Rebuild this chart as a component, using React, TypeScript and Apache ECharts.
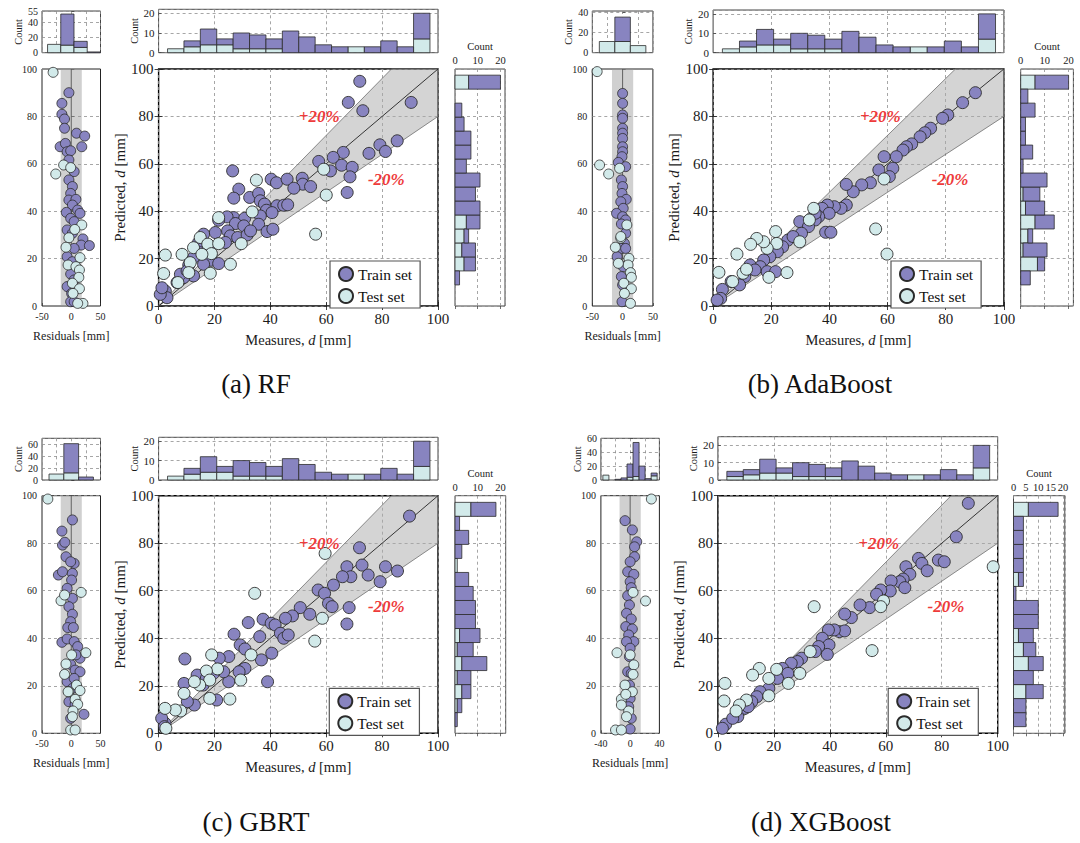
import React, { useEffect, useRef } from "react";
import * as echarts from "echarts";

const FONT = "Liberation Serif, Times New Roman, serif";
const TRAIN_C = "#8884c0";
const TEST_C = "#d2eaea";
const EDGE = "#2b2b2b";
const RED = "#ee3b3b";

// ---------- main scatter data: [measured, predicted] ----------
const rfTrain = [[72.0,94.8],[67.9,85.9],[90.4,85.9],[73.1,82.4],[85.4,69.7],[79.2,68.0],[81.2,65.2],[75.3,64.4],[66.1,64.8],[62.5,62.7],[57.3,61.0],[65.5,59.4],[69.3,58.5],[61.5,57.0],[68.5,54.5],[67.5,47.9],[26.5,57.0],[40.3,53.5],[42.2,52.0],[46.0,53.5],[51.4,53.9],[51.6,51.4],[54.4,50.4],[48.4,49.7],[28.7,49.3],[26.9,45.5],[32.6,45.8],[35.8,47.5],[36.4,44.4],[37.9,43.0],[42.4,42.3],[44.8,42.5],[46.2,42.7],[38.6,40.4],[40.6,39.4],[36.4,38.0],[26.9,37.3],[24.5,37.6],[21.5,36.2],[30.8,37.0],[27.5,34.8],[30.5,33.8],[35.8,34.5],[38.8,31.4],[40.9,32.4],[24.7,31.7],[20.3,31.0],[25.7,29.6],[28.3,28.9],[31.7,30.0],[32.9,31.7],[23.9,26.8],[16.1,30.3],[14.3,26.8],[17.9,24.6],[14.9,22.5],[12.5,20.4],[18.8,19.3],[21.5,17.9],[16.1,17.6],[10.8,17.3],[12.5,12.7],[9.0,12.0],[6.6,9.9],[2.4,6.3],[3.0,3.5],[0.6,4.9],[1.2,7.7],[7.8,13.4],[10.2,14.8]];
const rfTest = [[59.1,57.7],[60.0,46.8],[56.2,30.3],[35.0,53.1],[33.5,39.7],[21.5,37.3],[29.6,26.3],[14.9,28.9],[12.5,24.6],[17.6,26.1],[21.5,26.3],[18.9,22.1],[8.4,21.8],[2.4,21.5],[11.3,18.3],[18.5,13.8],[25.7,17.6],[10.8,14.1],[1.8,13.7],[6.9,9.9],[15.5,21.8]];

const adaTrain = [[90.2,90.0],[85.8,85.8],[80.7,80.6],[78.9,79.2],[74.8,75.0],[72.8,73.1],[71.2,71.4],[68.3,68.4],[66.5,67.2],[65.3,65.8],[63.0,63.0],[58.8,63.0],[61.8,58.1],[60.6,54.6],[57.0,57.4],[54.1,52.0],[51.1,51.1],[48.2,48.2],[45.8,51.3],[45.8,42.6],[44.0,41.2],[41.7,41.9],[39.3,42.6],[37.5,41.2],[39.9,39.1],[36.3,37.7],[35.1,36.3],[29.8,35.6],[32.8,33.5],[38.7,31.1],[40.5,31.1],[30.4,30.7],[25.7,27.8],[23.9,25.0],[22.1,22.9],[19.5,20.8],[17.4,19.4],[16.2,16.6],[18.6,14.5],[21.5,14.5],[12.7,17.3],[10.9,12.4],[9.1,8.9],[6.2,10.3],[3.2,7.0],[2.6,3.2],[1.4,2.5],[14.4,15.2],[27.5,29.3],[35.1,39.1]];
const adaTest = [[58.8,53.6],[55.9,32.5],[59.8,21.9],[34.6,41.2],[33.1,36.3],[29.8,27.1],[21.5,31.4],[21.9,26.4],[18.6,24.3],[17.4,27.1],[15.0,28.5],[12.9,26.0],[19.2,12.1],[25.4,14.1],[8.2,21.9],[2.0,14.2],[6.7,10.3],[10.3,13.8],[11.5,15.5]];

const gbrtTrain = [[89.8,91.4],[71.9,78.1],[72.8,70.8],[75.0,66.6],[67.4,70.1],[68.8,65.9],[65.8,65.9],[81.2,70.1],[85.5,68.3],[79.3,63.8],[62.6,62.4],[57.1,60.3],[59.4,58.9],[60.8,54.7],[62.1,53.3],[68.2,52.9],[67.4,46.0],[50.7,52.9],[47.9,49.4],[54.1,50.1],[45.4,48.4],[37.4,48.0],[40.3,46.3],[32.1,46.6],[41.7,45.6],[27.0,41.7],[36.2,40.7],[43.6,42.1],[44.8,40.0],[46.4,41.4],[40.5,33.7],[36.8,30.9],[29.2,37.2],[30.9,35.5],[25.1,32.3],[21.7,31.6],[30.9,27.3],[28.8,25.9],[25.1,21.7],[23.3,25.9],[9.4,31.3],[39.0,21.7],[13.8,24.5],[15.9,20.3],[20.8,14.0],[9.1,21.0],[12.8,11.9],[10.3,13.3],[2.3,4.2],[1.1,6.3],[2.1,2.8],[17.1,23.1],[19.6,25.2]];
const gbrtTest = [[59.6,75.7],[34.4,58.9],[58.6,48.4],[55.9,38.8],[33.1,33.0],[19.0,33.0],[21.1,27.1],[17.1,26.2],[29.4,22.4],[18.3,22.4],[14.7,20.3],[12.8,21.7],[18.3,14.7],[25.5,14.4],[9.1,16.8],[7.9,9.4],[6.0,9.8],[2.3,10.5],[2.6,2.1]];

const xgbTrain = [[89.5,96.8],[85.2,82.7],[78.8,72.9],[80.9,72.2],[71.7,73.6],[72.9,71.5],[74.8,68.4],[67.2,70.1],[68.6,66.9],[66.2,64.9],[65.0,63.8],[66.8,61.3],[61.9,64.1],[61.6,59.9],[58.2,60.3],[56.7,58.5],[54.2,52.9],[50.8,54.0],[47.7,48.7],[45.3,50.2],[43.4,42.8],[45.3,43.1],[41.6,43.5],[39.5,43.5],[37.3,40.0],[39.7,37.2],[39.1,33.2],[36.0,36.5],[34.8,34.4],[29.9,31.6],[28.4,30.2],[26.2,29.5],[23.1,27.3],[25.0,25.2],[21.3,23.1],[18.2,18.9],[15.1,17.5],[13.9,15.4],[12.1,13.3],[9.6,10.5],[7.1,7.0],[2.8,3.8],[1.6,2.1],[5.3,6.3],[10.8,11.2]];
const xgbTest = [[98.4,70.1],[55.1,34.8],[59.2,55.7],[58.2,53.3],[34.4,53.3],[33.0,34.4],[29.3,25.2],[25.2,21.0],[21.0,26.9],[18.2,23.1],[14.8,27.3],[12.4,24.5],[18.2,15.8],[10.2,14.0],[7.7,11.9],[2.5,21.0],[2.2,13.6],[6.5,9.4]];

// ---------- residual scatter data: [residual, predicted] ----------
const rfResTrain = [[-4,90],[-16,85.5],[-16,80.9],[-11.5,78.9],[-11.5,75],[9,72.9],[23,71.7],[18,67.2],[-19,67.2],[-10,68.6],[-7,65.1],[-1,65.5],[-4,61.6],[5,56.7],[-4,53.2],[2,50.4],[-1,47.5],[-4,44.7],[8,45],[2,42.6],[-8.4,39.5],[11,40.5],[15,39.1],[-1,37],[5,35.6],[-7,32.1],[2,30.7],[20,28.3],[17,25.7],[31,25.5],[5,24.3],[-7,20.8],[2,18.7],[-1,13.5],[5,11],[-7,8.2],[0.6,5.3],[-1,1.8],[5,1.8]];
const rfResTest = [[-31,98.6],[-26.5,55.7],[-13,59.5],[-1,58.4],[18,34.2],[6,32.3],[-4,28.8],[-9,24.8],[15,20.4],[-5.4,17.3],[8,16.6],[14,15.2],[13,12.1],[2,9.6],[14,7.3],[3,5.3],[20,1.1],[11,1.1]];
const adaResTrain = [[0,89.7],[0,85.5],[0,80.6],[0,79.2],[0,75],[0,72.9],[0,70.7],[0,67.2],[0,65.1],[-1,63],[-7,60.6],[5,58.8],[-2,53.2],[0,50.4],[-1,47.5],[6,45],[-3,44],[1,41.2],[-10,39.1],[0,37.7],[5,36.3],[-2,34.6],[5,30.7],[3,26.4],[-1,24.3],[-9,20.8],[1,16.6],[-2,12.4],[0,8.9],[-1,1.8],[5,24.3]];
const adaResTest = [[-42,98.9],[-38,59.5],[-23,55.7],[-5,58.1],[-12,24.8],[7,34.2],[-3,28.6],[10.5,20.1],[9,17.3],[13,14.1],[14.5,12.1],[2,9.6],[14.5,7.3],[3,5.3],[13,1.1],[-3,29.3],[-7,18]];
const gbrtResTrain = [[2,89.8],[-16,85.1],[-15,79.2],[-11,80.4],[-9,74.3],[5,71.5],[-1,72.2],[-22,66.6],[-15,68],[2,67.3],[0.6,64.5],[-7,61],[2,56.8],[-4,53.3],[2,50.1],[-1,47],[-6,44.5],[3.6,44.5],[-16,38.3],[-7,39.7],[5,38.6],[11,36.5],[15,31.6],[-1,29],[6.6,26.6],[15,25.9],[-7,21.7],[5,23.1],[2,18.9],[-4,13.3],[6.6,12.2],[21.7,8],[-1,6.3],[8,33]];
const gbrtResTest = [[-40,98.6],[-17.5,55.8],[-11.4,58.2],[17,59.3],[25,33.9],[-9,29.2],[-11.4,24.8],[9,20.3],[15,18],[-4,17.5],[6.6,14.3],[11,12.2],[3,9.4],[2,7],[-1,1.4],[6.6,1.4],[0.6,33],[-5.4,17.5]];
const xgbResTrain = [[-7,89.5],[3,85.6],[9,80.6],[6,78.5],[6,74.3],[0,72.2],[-3.4,68],[5,66.9],[0,63.8],[1.5,61.3],[-3.4,57.9],[-1,54],[-5,50.5],[1.5,48.1],[-6,44.9],[3,43.9],[-2,41.4],[5,38.6],[-5,38.6],[0,35.8],[-1,32.3],[-3.4,25.9],[1.5,25.2],[-1,20.3],[0,14.7],[-2,11.2],[1.5,6.3],[0,1.8]];
const xgbResTest = [[29,98.6],[-18,33.9],[21,55.7],[4,59.3],[5,28.8],[4,24.8],[3,17.5],[-7,20.3],[-12,14.4],[-12,11.9],[-6,16.4],[-2,9.4],[-5,7],[-20,1.4],[-12,1.4],[0,33]];

// ---------- histogram of measures (top) ----------
const measureBinStart = 3.2;
const measureBinWidth = 5.87;
const measureTotal = [2,6,12,7,10,9,7,11,8,4,3,3,3,6,3,20];
const measureTest = [2,3,4,4,2,2,2,0,0,0,0,3,0,0,0,7];
const measureTotalXgb = [5,6,12,7,10,9,7,11,8,4,3,3,3,6,3,20];

// ---------- histogram of predictions (right) ----------
const rfPredStart = 8.9, rfPredWidth = 5.9;
const rfPredTotal = [2,9,9,6,11,11,9,11,5,7,7,4,3,0,20];
const rfPredTest = [0,4,3,4,5,0,0,0,0,0,0,0,0,0,6];
const adaPredStart = 8.9, adaPredWidth = 5.9;
const adaPredTotal = [4,10,11,5,14,10,8,11,1,5,2,2,6,3,20];
const adaPredTest = [0,7,1,3,6,2,1,0,0,0,0,0,0,0,6];
const gbrtPredStart = 2.8, gbrtPredWidth = 5.9;
const gbrtPredTotal = [1,3,7,7,14,8,11,9,9,8,6,1,3,6,2,18];
const gbrtPredTest = [0,1,3,1,3,1,2,0,0,0,0,1,0,0,0,7];
const xgbPredStart = 2.8, xgbPredWidth = 5.9;
const xgbPredTotal = [5,5,12,8,12,9,8,10,10,1,4,4,4,4,4,18];
const xgbPredTest = [0,0,5,0,6,4,2,0,0,0,2,0,0,0,0,6];

// ---------- histogram of residuals (top-left) ----------
const rfResStart = -40.5, rfResWidth = 22.6;
const rfResTotal = [11,51,15,1];
const rfResTestCnt = [11,10,7,0];
const adaResStart = -38.4, adaResWidth = 25.6;
const adaResTotal = [11,35,7];
const adaResTestCnt = [11,11,7];
const gbrtResStart = -38, gbrtResWidth = 25.3;
const gbrtResTotal = [10,61,5];
const gbrtResTestCnt = [10,12,0];
const xgbResStart = -37.3, xgbResWidth = 8.25;
const xgbResTotal = [7,0,1,3,23,54,20,2,10];
const xgbResTestCnt = [7,0,0,0,4,5,0,0,6];

// residual band half-width
const residualBand = [18, 17.5, 18, 14.5];
// error band
const bandUpper = 1.2;
const bandLower = 0.8;
const bandLabels = ["+20%", "-20%"];
const bandLabelX = [57.5, 81.5];
const bandLabelY = [80, 53.5];

const captions = ["(a) RF", "(b) AdaBoost", "(c) GBRT", "(d) XGBoost"];

// axis settings
const resAxisMax = [50, 50, 50, 40];
const resAxisSplit = [25, 25, 25, 20];
const resHistMax = [55, 41, 70, 60];
const topHistMax = [22, 22, 22, 25];
const rightHistMax = [22, 22, 22.3, 20.7];
const rightHistInterval = [10, 10, 10, 5];

// ---------- layout (pixels) ----------
type Rect = [number, number, number, number];
interface Layout { main: Rect; top: Rect; right: Rect; res: Rect; resHist: Rect; legend: [number, number]; caption: [number, number]; }
const LAYOUTS: Layout[] = [
  { main: [158.6, 69, 279.4, 237], top: [158.6, 9.3, 279.4, 43.4], right: [455, 69, 50, 237], res: [42, 69, 58.5, 237], resHist: [42, 11, 58.5, 41.7], legend: [330, 261], caption: [256, 384] },
  { main: [713.1, 69, 290.8, 237], top: [713.1, 10, 290.8, 42.7], right: [1020.7, 69, 52.7, 237], res: [592.3, 69, 60.6, 237], resHist: [592.3, 11, 60.6, 41.7], legend: [891, 261], caption: [820, 384] },
  { main: [158.6, 495.7, 279.4, 237.6], top: [158.6, 437.3, 279.4, 42.7], right: [455, 495.7, 50.7, 237.6], res: [42, 495.7, 58.5, 237.6], resHist: [42, 438.3, 58.5, 41.7], legend: [329.3, 688.3], caption: [256, 822] },
  { main: [717.9, 495.7, 279.8, 237.6], top: [717.9, 436.7, 279.8, 43.3], right: [1013.5, 495.7, 51.3, 237.6], res: [600.9, 495.7, 58.5, 237.6], resHist: [600.9, 438.3, 58.5, 41.7], legend: [888.2, 688.3], caption: [821, 822] },
];

const PANELS = [
  { train: rfTrain, test: rfTest, resTrain: rfResTrain, resTest: rfResTest, mTotal: measureTotal, mTest: measureTest,
    pStart: rfPredStart, pWidth: rfPredWidth, pTotal: rfPredTotal, pTest: rfPredTest,
    rStart: rfResStart, rWidth: rfResWidth, rTotal: rfResTotal, rTest: rfResTestCnt },
  { train: adaTrain, test: adaTest, resTrain: adaResTrain, resTest: adaResTest, mTotal: measureTotal, mTest: measureTest,
    pStart: adaPredStart, pWidth: adaPredWidth, pTotal: adaPredTotal, pTest: adaPredTest,
    rStart: adaResStart, rWidth: adaResWidth, rTotal: adaResTotal, rTest: adaResTestCnt },
  { train: gbrtTrain, test: gbrtTest, resTrain: gbrtResTrain, resTest: gbrtResTest, mTotal: measureTotal, mTest: measureTest,
    pStart: gbrtPredStart, pWidth: gbrtPredWidth, pTotal: gbrtPredTotal, pTest: gbrtPredTest,
    rStart: gbrtResStart, rWidth: gbrtResWidth, rTotal: gbrtResTotal, rTest: gbrtResTestCnt },
  { train: xgbTrain, test: xgbTest, resTrain: xgbResTrain, resTest: xgbResTest, mTotal: measureTotalXgb, mTest: measureTest,
    pStart: xgbPredStart, pWidth: xgbPredWidth, pTotal: xgbPredTotal, pTest: xgbPredTest,
    rStart: xgbResStart, rWidth: xgbResWidth, rTotal: xgbResTotal, rTest: xgbResTestCnt },
];

// ---------- helpers ----------
const font = (size: number, extra: any = {}) => ({ fontFamily: FONT, fontSize: size, color: "#1a1a1a", ...extra });
const dashed = (show = true) => ({ show, lineStyle: { type: [3, 3], color: "#8f8f8f", width: 0.8 } });
const grid = (r: Rect, border = "#111", bw = 1) => ({ left: r[0], top: r[1], width: r[2], height: r[3], show: true, borderColor: border, borderWidth: bw, backgroundColor: "transparent" });

function vHist(start: number, width: number, total: number[], test: number[], part: "test" | "train") {
  const rows: number[][] = [];
  total.forEach((t, i) => {
    const x0 = start + i * width, x1 = x0 + width;
    if (part === "test" && test[i] > 0) rows.push([x0, x1, 0, test[i]]);
    if (part === "train" && t - test[i] > 0) rows.push([x0, x1, test[i], t]);
  });
  return rows;
}
function hHist(start: number, width: number, total: number[], test: number[], part: "test" | "train") {
  const rows: number[][] = [];
  total.forEach((t, i) => {
    const y0 = start + i * width, y1 = y0 + width;
    if (part === "test" && test[i] > 0) rows.push([0, test[i], y0, y1]);
    if (part === "train" && t - test[i] > 0) rows.push([test[i], t, y0, y1]);
  });
  return rows;
}

const rectRender = (params: any, api: any) => {
  const p0 = api.coord([api.value(0), api.value(2)]);
  const p1 = api.coord([api.value(1), api.value(3)]);
  return {
    type: "rect",
    shape: { x: Math.min(p0[0], p1[0]), y: Math.min(p0[1], p1[1]), width: Math.abs(p1[0] - p0[0]), height: Math.abs(p1[1] - p0[1]) },
    style: { fill: api.visual("color"), stroke: EDGE, lineWidth: 0.8 },
  };
};

const bandRender = (params: any, api: any) => {
  const lim = 100;
  const pts = [[0, 0], [lim / bandUpper, lim], [lim, lim], [lim, lim * bandLower]].map((p) => api.coord(p));
  const a = api.coord([0, 0]);
  const b = api.coord([lim, lim]);
  return {
    type: "group",
    children: [
      { type: "polygon", shape: { points: pts }, style: { fill: "rgba(170,170,170,0.5)", stroke: "#707070", lineWidth: 0.8 } },
      { type: "line", shape: { x1: a[0], y1: a[1], x2: b[0], y2: b[1] }, style: { stroke: "#222", lineWidth: 0.9 } },
    ],
  };
};

const makeResBandRender = (w: number) => (params: any, api: any) => {
  const p0 = api.coord([-w, 100]);
  const p1 = api.coord([w, 0]);
  const c0 = api.coord([0, 0]);
  const c1 = api.coord([0, 100]);
  return {
    type: "group",
    children: [
      { type: "rect", shape: { x: p0[0], y: p0[1], width: p1[0] - p0[0], height: p1[1] - p0[1] }, style: { fill: "rgba(150,150,150,0.45)" } },
      { type: "line", shape: { x1: c0[0], y1: c0[1], x2: c1[0], y2: c1[1] }, style: { stroke: "#555", lineWidth: 0.9 } },
    ],
  };
};

const labelRender = (params: any, api: any) => {
  const p = api.coord([api.value(0), api.value(1)]);
  return {
    type: "text",
    x: p[0], y: p[1],
    style: { text: bandLabels[api.value(2)], fill: RED, fontFamily: FONT, fontSize: 17, fontStyle: "italic", fontWeight: "bold", align: "center", verticalAlign: "middle", textAlign: "center", textVerticalAlign: "middle" },
  };
};

const richName = (pre: string, post: string, size: number) => ({
  name: `{r|${pre}}{i|d}{r|${post}}`,
  nameTextStyle: { rich: { r: font(size), i: font(size, { fontStyle: "italic" }) } },
});

function buildOption() {
  const grids: any[] = [];
  const xAxes: any[] = [];
  const yAxes: any[] = [];
  const extraX: any[] = [];
  const extraY: any[] = [];
  const series: any[] = [];
  const legends: any[] = [];
  const graphics: any[] = [];

  PANELS.forEach((P, k) => {
    const L = LAYOUTS[k];
    const base = k * 5;
    const gMain = base, gTop = base + 1, gRight = base + 2, gRes = base + 3, gResHist = base + 4;
    const tick = { show: true, inside: true, length: 4, lineStyle: { color: "#111", width: 0.8 } };
    const smallTick = { show: true, inside: true, length: 3, lineStyle: { color: "#333", width: 0.7 } };

    grids[gMain] = grid(L.main, "#000", 1.4);
    grids[gTop] = grid(L.top, "#444", 1);
    grids[gRight] = grid(L.right, "#444", 1);
    grids[gRes] = grid(L.res, "#222", 1);
    grids[gResHist] = grid(L.resHist, "#444", 1);

    xAxes[gMain] = {
      gridIndex: gMain, type: "value", min: 0, max: 100, interval: 20,
      axisLine: { show: false }, axisTick: tick, axisLabel: { ...font(15), margin: 5 }, splitLine: dashed(),
      ...richName("Measures, ", " [mm]", 14.5), nameLocation: "middle", nameGap: 26,
    };
    yAxes[gMain] = {
      gridIndex: gMain, type: "value", min: 0, max: 100, interval: 20,
      axisLine: { show: false }, axisTick: tick, axisLabel: { ...font(15), margin: 5 }, splitLine: dashed(),
      ...richName("Predicted, ", " [mm]", 15), nameLocation: "middle", nameGap: 31,
    };
    // mirrored ticks on top/right of main plot
    extraX.push({ gridIndex: gMain, type: "value", position: "top", min: 0, max: 100, interval: 20, axisLine: { show: false }, axisTick: tick, axisLabel: { show: false }, splitLine: { show: false } });
    extraY.push({ gridIndex: gMain, type: "value", position: "right", min: 0, max: 100, interval: 20, axisLine: { show: false }, axisTick: tick, axisLabel: { show: false }, splitLine: { show: false } });

    xAxes[gTop] = { gridIndex: gTop, type: "value", min: 0, max: 100, interval: 20, axisLine: { show: false }, axisTick: { show: false }, axisLabel: { show: false }, splitLine: dashed() };
    yAxes[gTop] = {
      gridIndex: gTop, type: "value", min: 0, max: topHistMax[k], interval: 10, axisLine: { show: false }, axisTick: smallTick,
      axisLabel: { ...font(11), margin: 4 }, splitLine: dashed(),
      name: "Count", nameLocation: "middle", nameGap: 18, nameTextStyle: font(10.5),
    };
    xAxes[gRight] = {
      gridIndex: gRight, type: "value", position: "top", min: 0, max: rightHistMax[k], interval: rightHistInterval[k],
      axisLine: { show: false }, axisTick: smallTick, axisLabel: { ...font(10.5), margin: 3 }, splitLine: dashed(),
      name: "Count", nameLocation: "middle", nameGap: 17, nameTextStyle: font(10.5),
    };
    yAxes[gRight] = { gridIndex: gRight, type: "value", min: 0, max: 100, interval: 20, axisLine: { show: false }, axisTick: { show: false }, axisLabel: { show: false }, splitLine: dashed() };
    const rm = resAxisMax[k];
    xAxes[gRes] = {
      gridIndex: gRes, type: "value", min: -rm, max: rm, interval: rm,
      axisLine: { show: false }, axisTick: smallTick, axisLabel: { ...font(10), margin: 5 }, splitLine: { show: false },
      name: "Residuals [mm]", nameLocation: "middle", nameGap: 24, nameTextStyle: font(12),
    };
    yAxes[gRes] = {
      gridIndex: gRes, type: "value", min: 0, max: 100, interval: 20,
      axisLine: { show: false }, axisTick: smallTick, axisLabel: { ...font(10), margin: 5 }, splitLine: dashed(),
    };
    xAxes[gResHist] = { gridIndex: gResHist, type: "value", min: -rm, max: rm, interval: resAxisSplit[k], axisLine: { show: false }, axisTick: { show: false }, axisLabel: { show: false }, splitLine: dashed() };
    yAxes[gResHist] = {
      gridIndex: gResHist, type: "value", min: 0, max: resHistMax[k], interval: 20, axisLine: { show: false }, axisTick: smallTick,
      axisLabel: { ...font(10), margin: 4 }, splitLine: dashed(),
      name: "Count", nameLocation: "middle", nameGap: 18, nameTextStyle: font(10.5),
    };

    series.push({ type: "custom", name: "band", xAxisIndex: gMain, yAxisIndex: gMain, data: [[0, 0]], encode: { x: 0, y: 1 }, renderItem: bandRender, z: 1, silent: true });
    series.push({ type: "scatter", name: "Train set", xAxisIndex: gMain, yAxisIndex: gMain, data: P.train, symbolSize: 12, itemStyle: { color: TRAIN_C, borderColor: EDGE, borderWidth: 0.9, opacity: 1 }, z: 3 });
    series.push({ type: "scatter", name: "Test set", xAxisIndex: gMain, yAxisIndex: gMain, data: P.test, symbolSize: 12, itemStyle: { color: TEST_C, borderColor: EDGE, borderWidth: 0.9, opacity: 1 }, z: 3 });
    series.push({ type: "custom", name: "labels", xAxisIndex: gMain, yAxisIndex: gMain, data: bandLabelX.map((x, i) => [x, bandLabelY[i], i]), encode: { x: 0, y: 1 }, renderItem: labelRender, z: 4, silent: true });

    series.push({ type: "custom", name: "hTest", xAxisIndex: gTop, yAxisIndex: gTop, data: vHist(measureBinStart, measureBinWidth, P.mTotal, P.mTest, "test"), encode: { x: [0, 1], y: [2, 3] }, renderItem: rectRender, itemStyle: { color: TEST_C }, z: 2, silent: true });
    series.push({ type: "custom", name: "hTrain", xAxisIndex: gTop, yAxisIndex: gTop, data: vHist(measureBinStart, measureBinWidth, P.mTotal, P.mTest, "train"), encode: { x: [0, 1], y: [2, 3] }, renderItem: rectRender, itemStyle: { color: TRAIN_C }, z: 2, silent: true });
    series.push({ type: "custom", name: "hTest", xAxisIndex: gRight, yAxisIndex: gRight, data: hHist(P.pStart, P.pWidth, P.pTotal, P.pTest, "test"), encode: { x: [0, 1], y: [2, 3] }, renderItem: rectRender, itemStyle: { color: TEST_C }, z: 2, silent: true });
    series.push({ type: "custom", name: "hTrain", xAxisIndex: gRight, yAxisIndex: gRight, data: hHist(P.pStart, P.pWidth, P.pTotal, P.pTest, "train"), encode: { x: [0, 1], y: [2, 3] }, renderItem: rectRender, itemStyle: { color: TRAIN_C }, z: 2, silent: true });
    series.push({ type: "custom", name: "resBand", xAxisIndex: gRes, yAxisIndex: gRes, data: [[0, 0]], encode: { x: 0, y: 1 }, renderItem: makeResBandRender(residualBand[k]), z: 1, silent: true });
    series.push({ type: "scatter", name: "Train set", xAxisIndex: gRes, yAxisIndex: gRes, data: P.resTrain, symbolSize: 10, itemStyle: { color: TRAIN_C, borderColor: EDGE, borderWidth: 0.8, opacity: 1 }, z: 3 });
    series.push({ type: "scatter", name: "Test set", xAxisIndex: gRes, yAxisIndex: gRes, data: P.resTest, symbolSize: 10, itemStyle: { color: TEST_C, borderColor: EDGE, borderWidth: 0.8, opacity: 1 }, z: 3 });
    series.push({ type: "custom", name: "hTest", xAxisIndex: gResHist, yAxisIndex: gResHist, data: vHist(P.rStart, P.rWidth, P.rTotal, P.rTest, "test"), encode: { x: [0, 1], y: [2, 3] }, renderItem: rectRender, itemStyle: { color: TEST_C }, z: 2, silent: true });
    series.push({ type: "custom", name: "hTrain", xAxisIndex: gResHist, yAxisIndex: gResHist, data: vHist(P.rStart, P.rWidth, P.rTotal, P.rTest, "train"), encode: { x: [0, 1], y: [2, 3] }, renderItem: rectRender, itemStyle: { color: TRAIN_C }, z: 2, silent: true });

    legends.push({
      left: L.legend[0], top: L.legend[1], orient: "vertical", data: ["Train set", "Test set"], icon: "circle",
      itemWidth: 14, itemHeight: 14, itemGap: 6, padding: [5, 8, 4, 8], borderColor: "#555", borderWidth: 1.2,
      backgroundColor: "#fff", textStyle: font(15.5, { color: "#111" }), selectedMode: false, z: 10,
    });

    graphics.push({
      type: "text", x: L.caption[0], y: L.caption[1],
      style: { text: captions[k], fontFamily: FONT, fontSize: 27, fill: "#111", align: "center", verticalAlign: "middle", textAlign: "center", textVerticalAlign: "middle" },
    });
  });

  return {
    animation: false,
    backgroundColor: "#fff",
    textStyle: { fontFamily: FONT },
    grid: grids,
    xAxis: [...xAxes, ...extraX],
    yAxis: [...yAxes, ...extraY],
    series,
    legend: legends,
    graphic: graphics,
  };
}

export default function App() {
  const ref = useRef<HTMLDivElement>(null);
  useEffect(() => {
    if (!ref.current) return;
    const chart = echarts.init(ref.current, undefined, { renderer: "svg" });
    chart.setOption(buildOption() as any);
    return () => chart.dispose();
  }, []);
  return <div ref={ref} style={{ position: "fixed", left: 0, top: 0, width: 1080, height: 843, background: "#fff" }} />;
}
